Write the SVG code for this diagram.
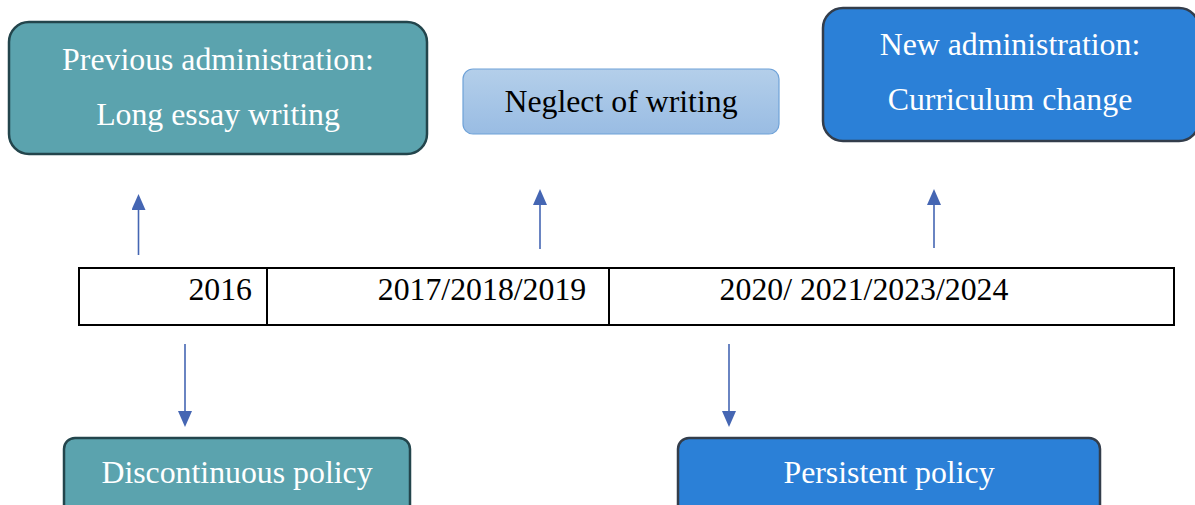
<svg xmlns="http://www.w3.org/2000/svg" width="1195" height="505" viewBox="0 0 1195 505">
  <style>
    .lbl { font-family: "Liberation Serif", "Times New Roman", serif; font-size: 31.8px; text-anchor: middle; }
    .white { fill: #ffffff; }
    .dark { fill: #000000; }
    .teal { fill: #5ba3ae; stroke: #23454c; stroke-width: 2.5; }
    .blue { fill: #2b80d7; stroke: #333d4b; stroke-width: 2.5; }
    .cell { fill: #ffffff; stroke: #000000; stroke-width: 2; }
    .conn { stroke: #4566b3; stroke-width: 1.6; fill: none; }
  </style>
  <defs>
    <linearGradient id="paleBlue" x1="0" y1="0" x2="0" y2="1">
      <stop offset="0" stop-color="#b4cfea"/>
      <stop offset="1" stop-color="#99bce3"/>
    </linearGradient>
    <!-- triangular head pointing along the line direction; tip sits 3px past the line end -->
    <marker id="head" viewBox="0 0 16 14" refX="13" refY="7" markerWidth="16" markerHeight="14" markerUnits="userSpaceOnUse" orient="auto">
      <path d="M0,0 L16,7 L0,14 Z" fill="#4566b3"/>
    </marker>
  </defs>

  <rect width="1195" height="505" fill="#ffffff"/>

  <!-- upper nodes -->
  <g id="previous-administration">
    <rect class="teal" x="9" y="22" width="418" height="132" rx="20"/>
    <text class="lbl white" x="218" y="70">Previous administration:</text>
    <text class="lbl white" x="218" y="125">Long essay writing</text>
  </g>

  <g id="neglect-of-writing">
    <rect x="463" y="69" width="316" height="65" rx="10" fill="url(#paleBlue)" stroke="#6fa2d8" stroke-width="1.2"/>
    <text class="lbl dark" x="621" y="112">Neglect of writing</text>
  </g>

  <g id="new-administration">
    <rect class="blue" x="823" y="8" width="376" height="133" rx="20"/>
    <text class="lbl white" x="1010" y="55">New administration:</text>
    <text class="lbl white" x="1010" y="110">Curriculum change</text>
  </g>

  <!-- timeline table -->
  <g id="timeline">
    <rect class="cell" x="79" y="268" width="1095" height="57"/>
    <line x1="267" y1="268" x2="267" y2="325" stroke="#000" stroke-width="2"/>
    <line x1="609" y1="268" x2="609" y2="325" stroke="#000" stroke-width="2"/>
    <text class="lbl dark" x="252" y="300" style="text-anchor:end">2016</text>
    <text class="lbl dark" x="482" y="300">2017/2018/2019</text>
    <text class="lbl dark" x="864" y="300">2020/ 2021/2023/2024</text>
  </g>

  <!-- lower nodes -->
  <g id="discontinuous-policy">
    <rect class="teal" x="64" y="438" width="346" height="80" rx="11"/>
    <text class="lbl white" x="237" y="483">Discontinuous policy</text>
  </g>

  <g id="persistent-policy">
    <rect class="blue" x="678" y="438" width="422" height="80" rx="11"/>
    <text class="lbl white" x="889" y="483">Persistent policy</text>
  </g>

  <!-- connectors -->
  <g id="connectors">
    <line class="conn" x1="138.5" y1="255" x2="138.5" y2="197" marker-end="url(#head)"/>
    <line class="conn" x1="540" y1="249" x2="540" y2="192" marker-end="url(#head)"/>
    <line class="conn" x1="934" y1="248" x2="934" y2="192" marker-end="url(#head)"/>
    <line class="conn" x1="185" y1="344" x2="185" y2="424" marker-end="url(#head)"/>
    <line class="conn" x1="729" y1="344" x2="729" y2="424" marker-end="url(#head)"/>
  </g>
</svg>
